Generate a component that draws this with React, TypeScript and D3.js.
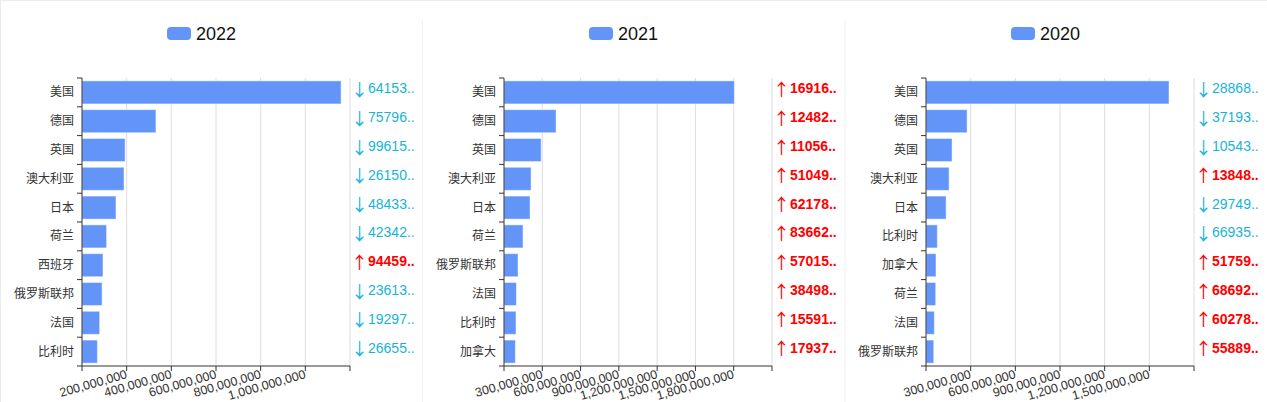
import React from 'react';
import * as d3 from 'd3';

// one panel per year, left to right
const years = ['2022', '2021', '2020'];

const categories2022 = ['美国', '德国', '英国', '澳大利亚', '日本', '荷兰', '西班牙', '俄罗斯联邦', '法国', '比利时'];
const values2022 = [1.16e9, 0.331e9, 0.193e9, 0.188e9, 0.152e9, 0.11e9, 0.094e9, 0.09e9, 0.079e9, 0.069e9];
const changes2022 = ['64153..', '75796..', '99615..', '26150..', '48433..', '42342..', '94459..', '23613..', '19297..', '26655..'];
const trends2022 = ['down', 'down', 'down', 'down', 'down', 'down', 'up', 'down', 'down', 'down'];

const categories2021 = ['美国', '德国', '英国', '澳大利亚', '日本', '荷兰', '俄罗斯联邦', '法国', '比利时', '加拿大'];
const values2021 = [1.805e9, 0.408e9, 0.291e9, 0.212e9, 0.204e9, 0.149e9, 0.11e9, 0.097e9, 0.094e9, 0.089e9];
const changes2021 = ['16916..', '12482..', '11056..', '51049..', '62178..', '83662..', '57015..', '38498..', '15591..', '17937..'];
const trends2021 = ['up', 'up', 'up', 'up', 'up', 'up', 'up', 'up', 'up', 'up'];

const categories2020 = ['美国', '德国', '英国', '澳大利亚', '日本', '比利时', '加拿大', '荷兰', '法国', '俄罗斯联邦'];
const values2020 = [1.632e9, 0.276e9, 0.175e9, 0.155e9, 0.135e9, 0.076e9, 0.067e9, 0.065e9, 0.056e9, 0.052e9];
const changes2020 = ['28868..', '37193..', '10543..', '13848..', '29749..', '66935..', '51759..', '68692..', '60278..', '55889..'];
const trends2020 = ['down', 'down', 'down', 'up', 'down', 'down', 'up', 'up', 'up', 'up'];

// axis interval for each year
const tickSteps = [2e8, 3e8, 3e8];

const panels = [
  { cats: categories2022, vals: values2022, changes: changes2022, trends: trends2022 },
  { cats: categories2021, vals: values2021, changes: changes2021, trends: trends2021 },
  { cats: categories2020, vals: values2020, changes: changes2020, trends: trends2020 },
];

const W = 1267;
const H = 402;
const panelW = 422;
const margin = { left: 82, right: 72, top: 78, bottom: 36 };
const barColor = '#6395f9';
const downColor = '#17b3d9';
const upColor = '#ff0000';
const font = "'Liberation Sans', Arial, 'Noto Sans CJK SC', sans-serif";
const fmt = d3.format(',');

const Panel = ({ idx }: { idx: number }) => {
  const p = panels[idx];
  const x0 = idx * panelW;
  const innerW = panelW - margin.left - margin.right;
  const bottom = H - margin.bottom;
  const step = tickSteps[idx];
  const max = Math.ceil(d3.max(p.vals)! / step) * step;

  const x = d3.scaleLinear().domain([0, max]).range([margin.left, margin.left + innerW]);
  const y = d3
    .scaleBand<string>()
    .domain(p.cats)
    .range([margin.top, bottom])
    .paddingInner(0.2)
    .paddingOuter(0.1);

  const ticks = d3.range(0, max + step / 2, step);
  const bandEdges = p.cats.map((c) => y(c)! - (y.step() - y.bandwidth()) / 2);
  bandEdges.push(bottom);

  return (
    <g transform={`translate(${x0},0)`}>
      {/* legend */}
      <rect x={167} y={27} width={24} height={13} rx={4} fill={barColor} />
      <text x={196} y={34} fontSize={18} dominantBaseline="central" fill="#111">
        {years[idx]}
      </text>

      {/* grid */}
      {ticks.slice(1).map((t) => (
        <line key={t} x1={x(t)} x2={x(t)} y1={margin.top} y2={bottom} stroke="#dcdcdc" />
      ))}

      {/* bars */}
      {p.cats.map((c, i) => (
        <rect
          key={c}
          x={x(0)}
          y={y(c)}
          width={x(p.vals[i]) - x(0)}
          height={y.bandwidth()}
          fill={barColor}
          stroke="rgba(255,255,255,0.45)"
        />
      ))}

      {/* y axis */}
      <line x1={x(0)} x2={x(0)} y1={margin.top} y2={bottom} stroke="#333" />
      {bandEdges.map((e, i) => (
        <line key={i} x1={x(0) - 5} x2={x(0)} y1={e} y2={e} stroke="#333" />
      ))}
      {p.cats.map((c) => (
        <text
          key={c}
          x={x(0) - 8}
          y={y(c)! + y.bandwidth() / 2}
          textAnchor="end"
          dominantBaseline="central"
          fontSize={12}
          fill="#333"
        >
          {c}
        </text>
      ))}

      {/* x axis */}
      <line x1={x(0)} x2={x(max)} y1={bottom} y2={bottom} stroke="#333" />
      {ticks.map((t) => (
        <line key={t} x1={x(t)} x2={x(t)} y1={bottom} y2={bottom + 5} stroke="#333" />
      ))}
      {ticks.slice(1, -1).map((t) => (
        <text
          key={t}
          transform={`translate(${x(t)},${bottom + 8}) rotate(-16)`}
          textAnchor="end"
          dominantBaseline="central"
          fontSize={12.5}
          fill="#333"
        >
          {fmt(t)}
        </text>
      ))}

      {/* change labels */}
      {p.cats.map((c, i) => {
        const up = p.trends[i] === 'up';
        const cy = y(c)! + y.bandwidth() / 2 - 4;
        const col = up ? upColor : downColor;
        return (
          <g key={c}>
            <text
              x={x(max) + 1}
              y={cy}
              dominantBaseline="central"
              fontSize={17}
              fontFamily="'Noto Sans CJK SC', sans-serif"
              fill={col}
            >
              {up ? '↑' : '↓'}
            </text>
            <text
              x={x(max) + 18}
              y={cy}
              dominantBaseline="central"
              fontSize={14}
              fontWeight={up ? 'bold' : 'normal'}
              fill={col}
            >
              {p.changes[i]}
            </text>
          </g>
        );
      })}
    </g>
  );
};

export default function App() {
  return (
    <svg
      width={W}
      height={H}
      style={{ position: 'absolute', left: 0, top: 0, fontFamily: font, background: '#fff' }}
    >
      <line x1={0} x2={W} y1={0.5} y2={0.5} stroke="#ececec" />
      <line x1={0.5} x2={0.5} y1={0} y2={H} stroke="#ececec" />
      {[1, 2].map((i) => (
        <line key={i} x1={i * panelW + i * 0.5} x2={i * panelW + i * 0.5} y1={20} y2={H} stroke="#f0f0f0" />
      ))}
      {years.map((yr, i) => (
        <Panel key={yr} idx={i} />
      ))}
    </svg>
  );
}
